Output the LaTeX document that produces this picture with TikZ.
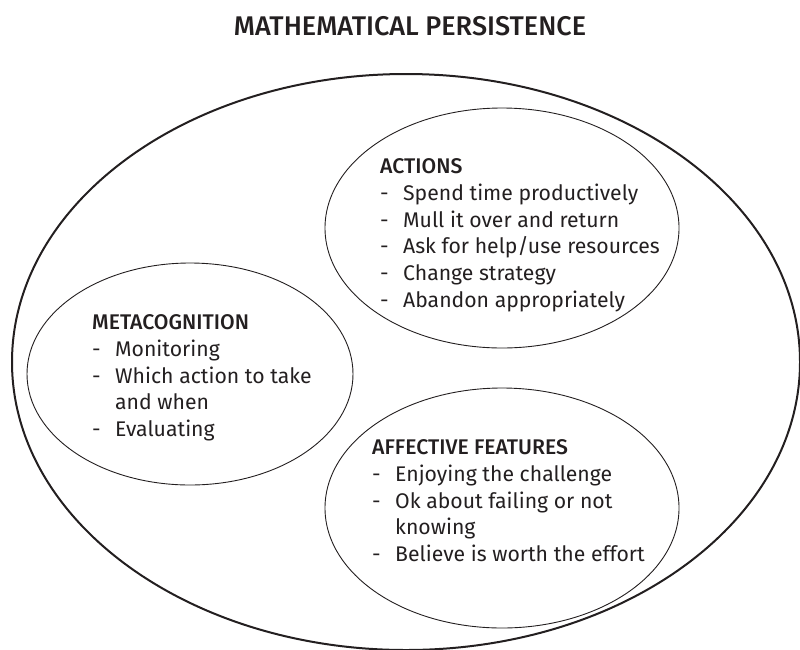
\documentclass[tikz,border=0pt]{standalone}
\usepackage{fontspec}
\setmainfont{Fira Sans}[BoldFont={Fira Sans Medium}]
\usetikzlibrary{shapes.geometric}
\definecolor{inkgray}{RGB}{35,31,32}
\newcommand{\itm}[1]{\makebox[23pt][l]{-}#1}
\newcommand{\cont}[1]{\hspace*{23pt}#1}

\begin{document}
\begin{tikzpicture}[x=1pt,y=-1pt,
    outer/.style={ellipse,draw=inkgray,line width=2pt,inner sep=0pt,minimum width=788pt,minimum height=576pt},
    inner/.style={ellipse,draw=inkgray,line width=0.9pt,inner sep=0pt},
    blurb/.style={anchor=north west,align=left,inner sep=0pt,text=inkgray,font=\fontsize{21.2}{26.7}\selectfont}]
    \useasboundingbox (0,0) rectangle (800,649);
    \node[font=\bfseries\fontsize{27}{32}\selectfont,text=inkgray,anchor=base] (title) at (410,35) {MATHEMATICAL PERSISTENCE};
    % the big one and the three inside it
    \node[outer] (persist) at (406,362) {};
    \node[inner,minimum width=354pt,minimum height=240pt] (actions) at (502,228) {};
    \node[inner,minimum width=326pt,minimum height=222pt] (meta) at (190,374) {};
    \node[inner,minimum width=354pt,minimum height=240pt] (affect) at (502,508) {};
    % texts
    \node[blurb] (actionstext) at (380,158.5) {\textbf{ACTIONS}\\
      \itm{Spend time productively}\\
      \itm{Mull it over and return}\\
      \itm{Ask for help/use resources}\\
      \itm{Change strategy}\\
      \itm{Abandon appropriately}};
    \node[blurb] (metatext) at (92,314.5) {\textbf{METACOGNITION}\\
      \itm{Monitoring}\\
      \itm{Which action to take}\\
      \cont{and when}\\
      \itm{Evaluating}};
    \node[blurb] (affecttext) at (372,439.5) {\textbf{AFFECTIVE FEATURES}\\
      \itm{Enjoying the challenge}\\
      \itm{Ok about failing or not}\\
      \cont{knowing}\\
      \itm{Believe is worth the effort}};
\end{tikzpicture}
\end{document}
